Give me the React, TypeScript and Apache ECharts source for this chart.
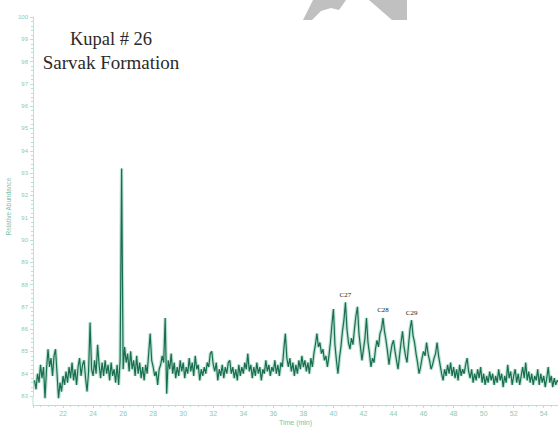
import React, { useEffect, useRef } from "react";
import * as echarts from "echarts";

// Relative abundance sampled every 0.1 min from 20.1 to 55.0 min
const timeStart = 20.1;
const timeStep = 0.1;
const abundance = [
  83.7, 83.3, 84.0, 83.6, 84.4, 83.8, 84.3, 82.9, 84.2, 85.1,
  84.3, 84.7, 83.9, 84.8, 85.1, 84.0, 82.9, 83.6, 83.2, 83.9,
  83.5, 84.1, 83.6, 84.3, 83.8, 84.5, 83.7, 84.2, 83.5, 84.3,
  84.7, 83.9, 84.4, 84.6, 83.8, 83.2, 84.1, 86.3, 84.2, 83.9,
  84.6, 84.0, 85.3, 84.4, 83.8, 84.5, 83.9, 84.6, 84.0, 84.4,
  83.7, 84.5, 83.9, 84.2, 83.6, 84.4, 83.5, 84.6, 93.2, 84.2,
  85.2, 84.5, 84.9, 84.1, 85.0, 84.2, 84.6, 83.9, 84.8, 84.0,
  84.5, 83.8, 84.3, 83.7, 84.4, 84.0, 84.9, 85.8, 84.6, 84.3,
  83.9, 84.1, 83.5, 84.2, 84.4, 84.8, 84.5, 86.5, 83.1, 84.6,
  84.2, 84.9, 84.0, 84.5, 83.8, 84.3, 83.9, 84.6, 84.1, 84.5,
  83.8, 84.3, 84.0, 84.7, 84.1, 84.5, 83.9, 84.8, 84.2, 84.4,
  83.7, 84.2, 83.9, 84.3, 84.0, 84.5, 84.3, 84.9, 85.0, 84.4,
  84.1, 84.5, 83.7, 84.2, 83.9, 84.4, 83.8, 84.3, 84.0, 84.5,
  84.6, 84.0, 84.3, 83.8, 84.2, 83.7, 84.4, 83.9, 84.3, 84.0,
  84.5, 84.2, 84.9, 84.1, 84.4, 83.8, 84.3, 83.9, 84.5, 84.0,
  84.3, 83.7, 84.2, 84.0, 84.6, 84.1, 84.4, 83.9, 84.3, 84.1,
  84.6, 84.0, 84.4, 83.9, 84.5, 84.3, 85.1, 85.8, 84.7, 84.3,
  84.7, 84.1, 84.5, 83.9, 84.4, 84.0, 84.6, 84.2, 84.8, 84.3,
  84.6, 84.1, 84.5, 84.0, 84.7, 84.3, 84.9, 85.3, 85.8, 85.2,
  85.4, 84.9, 85.1, 84.6, 84.8, 84.3, 84.8, 85.4, 86.2, 86.9,
  85.3, 84.6, 84.0, 84.7, 85.2, 85.9, 86.4, 87.2, 86.0, 85.4,
  85.1, 85.6, 85.3, 86.0, 86.6, 87.0, 85.8, 85.2, 84.6, 85.1,
  85.6, 86.5, 85.4, 84.9, 84.3, 84.7, 84.5, 85.1, 85.5, 85.2,
  85.8, 86.0, 86.5, 85.9, 85.5, 85.0, 84.4, 84.9, 85.3, 85.5,
  85.0, 84.6, 84.2, 84.8, 85.4, 85.9, 85.2, 84.8, 84.5, 85.3,
  86.0, 86.4, 85.7, 85.4, 84.9, 84.5, 84.0, 84.3, 84.7, 85.0,
  84.8, 85.4, 84.9, 84.6, 84.2, 84.4, 84.7, 84.9, 85.4, 84.8,
  84.4, 84.0, 83.7, 84.2, 83.9, 84.4, 84.0, 84.5, 83.9, 84.3,
  83.8, 84.2, 83.7, 84.4, 83.9, 84.2, 84.0, 84.4, 84.7, 84.1,
  83.8, 84.2, 83.6, 84.0, 83.7, 84.2, 83.8, 84.3, 83.6, 84.0,
  83.5, 83.9, 83.6, 84.1, 83.7, 84.0, 83.5, 83.9, 83.6, 84.2,
  83.7, 84.0, 83.4, 83.9, 83.6, 84.4, 83.8, 84.1, 83.5, 83.9,
  84.2, 83.6, 84.0, 83.5, 83.9, 84.3, 83.8, 84.5, 83.7, 84.1,
  83.6, 84.0, 83.5, 83.9, 83.7, 84.2, 83.5, 84.0, 83.6, 83.9,
  83.4, 83.8, 84.3, 83.6, 83.9, 83.4, 83.8, 83.5, 83.7, 83.6,
];

const xTickLabels = [22, 24, 26, 28, 30, 32, 34, 36, 38, 40, 42, 44, 46, 48, 50, 52, 54];

const peakLabels = [
  { name: "C27", time: 40.8, value: 87.2 },
  { name: "C28", time: 43.3, value: 86.5 },
  { name: "C29", time: 45.2, value: 86.4 },
];

const titleLines = ["Kupal # 26", "Sarvak Formation"];

const axisColor = "#b8e2d4";
const labelColor = "#8fc9b5";

export default function App() {
  const ref = useRef<HTMLDivElement>(null);

  useEffect(() => {
    if (!ref.current) return;
    const chart = echarts.init(ref.current, undefined, { renderer: "svg" });
    const seriesData = abundance.map((v, i) => [
      Math.round((timeStart + i * timeStep) * 100) / 100,
      v,
    ]);

    chart.setOption({
      animation: false,
      backgroundColor: "#ffffff",
      grid: { left: 33, right: 0, top: 17, bottom: 32, containLabel: false, outerBoundsMode: "none" },
      xAxis: {
        type: "value",
        min: 20,
        max: 54.95,
        interval: 2,
        offset: 9,
        name: "Time (min)",
        nameLocation: "middle",
        nameGap: 14,
        nameMoveOverlap: false,
        nameTextStyle: { color: "#7cbfa8", fontSize: 7, fontFamily: "Liberation Sans, Arial, sans-serif" },
        axisLine: { lineStyle: { color: axisColor, width: 1 } },
        axisTick: { length: 3, lineStyle: { color: axisColor } },
        minorTick: { show: true, splitNumber: 4, length: 2, lineStyle: { color: axisColor } },
        splitLine: { show: false },
        axisLabel: {
          color: labelColor,
          fontSize: 7,
          margin: 5,
          fontFamily: "Liberation Sans, Arial, sans-serif",
          formatter: (v: number) => (xTickLabels.indexOf(v) >= 0 ? String(v) : ""),
        },
      },
      yAxis: {
        type: "value",
        min: 83,
        max: 100,
        interval: 1,
        name: "Relative Abundance",
        nameLocation: "middle",
        nameGap: 21,
        nameMoveOverlap: false,
        nameTextStyle: { color: "#7cbfa8", fontSize: 6.5, fontFamily: "Liberation Sans, Arial, sans-serif" },
        axisLine: { show: true, lineStyle: { color: axisColor, width: 1 } },
        axisTick: { show: true, length: 3, lineStyle: { color: axisColor } },
        minorTick: { show: true, splitNumber: 5, length: 2, lineStyle: { color: axisColor } },
        splitLine: { show: false },
        axisLabel: {
          color: labelColor,
          fontSize: 6,
          margin: 5,
          fontFamily: "Liberation Sans, Arial, sans-serif",
        },
      },
      series: [
        {
          type: "line",
          data: seriesData,
          showSymbol: false,
          symbol: "none",
          clip: false,
          silent: true,
          lineStyle: { color: "rgba(70,175,135,0.35)", width: 3.5 },
        },
        {
          type: "line",
          data: seriesData,
          showSymbol: false,
          symbol: "none",
          clip: false,
          lineStyle: { color: "#1a6e50", width: 1.2 },
          markPoint: {
            symbol: "circle",
            symbolSize: 0,
            silent: true,
            data: peakLabels.map((p) => ({ name: p.name, coord: [p.time, p.value] })),
            label: {
              show: true,
              position: "top",
              distance: 4,
              formatter: (p: any) => p.name,
              color: "#222",
              fontSize: 7,
              fontFamily: "Liberation Serif, Times New Roman, serif",
            },
          },
        },
      ],
      graphic: [
        { type: "line", shape: { x1: 33, y1: 396, x2: 33, y2: 405 }, style: { stroke: axisColor, lineWidth: 1 } },
        {
          type: "polygon",
          shape: {
            points: [
              [303, 20], [313, 0], [346, 0], [339, 10], [331, 8], [321, 11], [312, 20],
            ],
          },
          style: { fill: "#c0c0c0" },
        },
        {
          type: "polygon",
          shape: { points: [[369, 0], [407, 0], [407, 20], [392, 20]] },
          style: { fill: "#c0c0c0" },
        },
        {
          type: "text",
          x: 111,
          y: 39,
          style: {
            text: titleLines[0],
            textAlign: "center",
            textVerticalAlign: "middle",
            fontSize: 18.5,
            fill: "#2a2a2a",
            fontFamily: "Liberation Serif, Times New Roman, serif",
          },
        },
        {
          type: "text",
          x: 111,
          y: 62,
          style: {
            text: titleLines[1],
            textAlign: "center",
            textVerticalAlign: "middle",
            fontSize: 19,
            fill: "#2a2a2a",
            fontFamily: "Liberation Serif, Times New Roman, serif",
          },
        },
      ],
    });

    return () => chart.dispose();
  }, []);

  return (
    <div
      ref={ref}
      style={{ position: "fixed", left: 0, top: 0, width: 558, height: 428, background: "#fff" }}
    />
  );
}
